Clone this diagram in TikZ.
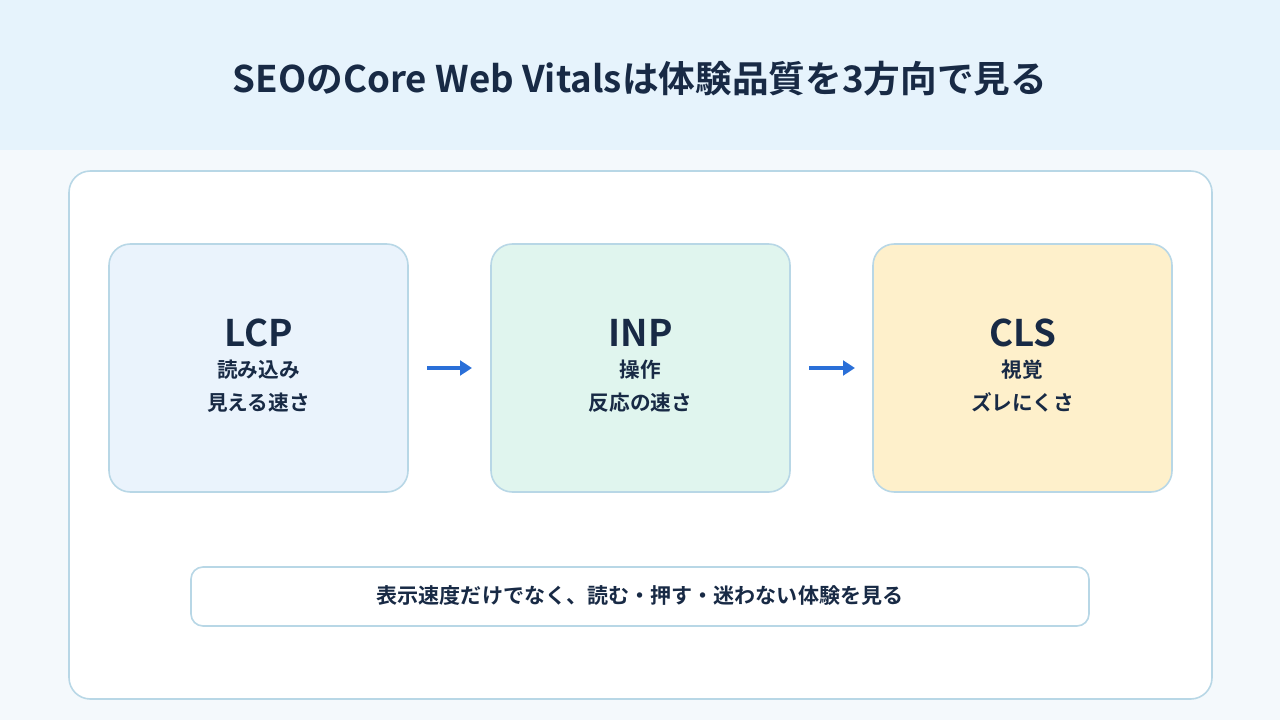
\documentclass[tikz,border=0pt]{standalone}
\usepackage{fontspec}
\setmainfont{Noto Sans CJK JP}[BoldFont={* Bold}]
\usetikzlibrary{arrows.meta}
\definecolor{ink}{HTML}{182A45}
\definecolor{hdr}{HTML}{E6F3FC}
\definecolor{bg}{HTML}{F4F9FC}
\definecolor{bd}{HTML}{B8D7E6}
\definecolor{fa}{HTML}{EAF3FC}
\definecolor{fb}{HTML}{E0F5EE}
\definecolor{fc}{HTML}{FEF0CB}
\definecolor{arr}{HTML}{2A6FD8}
\begin{document}
\begin{tikzpicture}[x=0.75pt,y=-0.75pt,
  card/.style={draw=bd,line width=1.2pt,rounded corners=16pt},
  big/.style={text=ink,font=\bfseries\fontsize{27.5}{30}\selectfont},
  sub/.style={text=ink,font=\bfseries\fontsize{15.5}{24.5}\selectfont,align=center},
  conn/.style={draw=arr,line width=2.3pt,-{Triangle[length=9pt,width=11pt]}}]
\useasboundingbox (0,0) rectangle (1280,720);
\fill[bg] (0,0) rectangle (1280,720);
\fill[hdr] (0,0) rectangle (1280,150);
\node[text=ink,font=\bfseries\fontsize{27.5}{32}\selectfont] (title) at (640,79) {SEOのCore Web Vitalsは体験品質を3方向で見る};
\draw[card,fill=white] (69,171) rectangle (1212,699);
\draw[card,fill=fa] (109,244) rectangle (408,492);
\draw[card,fill=fb] (491,244) rectangle (790,492);
\draw[card,fill=fc] (873,244) rectangle (1172,492);
\node[big] (t1) at (258.5,333) {LCP};
\node[sub] (s1) at (258.5,386) {読み込み\\見える速さ};
\node[big] (t2) at (640.5,333) {INP};
\node[sub] (s2) at (640.5,386) {操作\\反応の速さ};
\node[big] (t3) at (1022.5,333) {CLS};
\node[sub] (s3) at (1022.5,386) {視覚\\ズレにくさ};
\coordinate (a1) at (427,368); \coordinate (b1) at (472,368);
\coordinate (a2) at (809,368); \coordinate (b2) at (855,368);
\draw[conn] (a1) -- (b1);
\draw[conn] (a2) -- (b2);
\draw[draw=bd,line width=1.2pt,rounded corners=9pt,fill=white] (191,567) rectangle (1089,626);
\node[sub,font=\bfseries\fontsize{15.8}{24}\selectfont] (note) at (640,596) {表示速度だけでなく、読む・押す・迷わない体験を見る};
\end{tikzpicture}
\end{document}
